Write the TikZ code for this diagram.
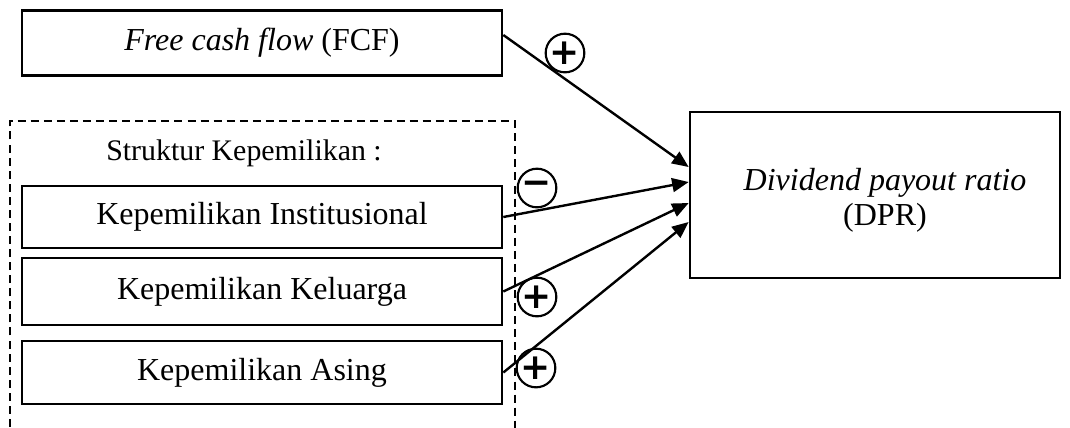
\documentclass[tikz,border=0pt]{standalone}
\usepackage{fontspec}
\setmainfont{Liberation Serif}
\newfontfamily\signfont{DejaVu Sans}
\usetikzlibrary{arrows.meta,calc}

\begin{document}
\begin{tikzpicture}[x=0.375pt,y=-0.375pt,
		font=\fontsize{12}{13.2}\selectfont,
		box/.style={draw, line width=1pt, minimum width=180pt, inner sep=0pt},
		sign/.style={draw, circle, line width=0.8pt, minimum size=14.5pt, inner sep=0pt, font=\signfont\bfseries\fontsize{13.5}{13.5}\selectfont},
		link/.style={line width=0.9pt, -{Triangle[length=6.2pt,width=5.2pt]}}]
	\useasboundingbox (0,0) rectangle (1070,427);

	\draw[dash pattern=on 3pt off 1.9pt, line width=0.6pt] (10,440) -- (10,121) -- (515,121) -- (515,440);

	\node (fcf) [box, minimum height=24.4pt] at (262,43) {\textit{Free cash flow} (FCF)\hspace{6.75pt}};
	\node (struktur) [font=\fontsize{11.2}{13}\selectfont] at (244,153) {Struktur Kepemilikan :};
	\node (inst) [box, minimum height=23.25pt] at (262,217) {Kepemilikan Institusional};
	\node (kel) [box, minimum height=25.1pt] at (262,291.5) {Kepemilikan Keluarga};
	\node (asing) [box, minimum height=23.6pt] at (262,372.5) {Kepemilikan Asing};
	\node (dpr) [box, minimum width=138.75pt, minimum height=62.25pt] at (875,195) {};
	\node (dprtext) [align=center] at (885,200) {\textit{Dividend payout ratio}\\(DPR)};

	\draw[link] ($(fcf.east)+(0,-8)$) -- ($(dpr.west)+(0,-28)$);
	\draw[link] (inst.east) -- ($(dpr.west)+(0,-13)$);
	\draw[link] (kel.east) -- ($(dpr.west)+(0,8)$);
	\draw[link] (asing.east) -- ($(dpr.west)+(0,27)$);

	\node (sfcf) [sign] at (565,53) {+};
	\node (sinst) [sign] at (537,188) {−};
	\node (skel) [sign] at (537,297) {+};
	\node (sasing) [sign] at (536,368) {+};
\end{tikzpicture}
\end{document}
